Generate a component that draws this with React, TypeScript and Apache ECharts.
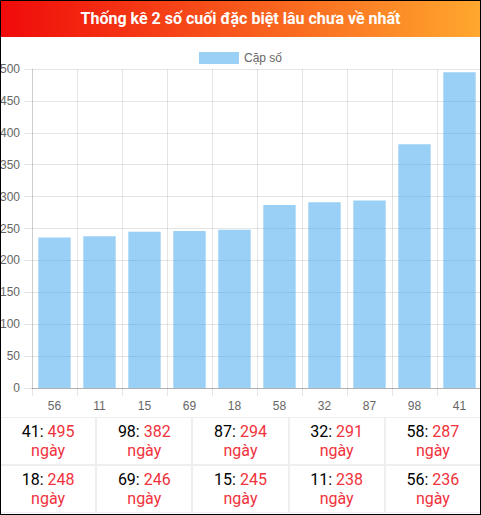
import React, { useEffect, useRef } from "react";
import * as echarts from "echarts";

const TITLE = "Thống kê 2 số cuối đặc biệt lâu chưa về nhất";
const SERIES_NAME = "Cặp số";
const categories = ["56", "11", "15", "69", "18", "58", "32", "87", "98", "41"];
const values = [236, 238, 245, 246, 248, 287, 291, 294, 382, 495];
const yTicks = { min: 0, max: 500, interval: 50 };
const tableRow1 = ["41", "98", "87", "32", "58"];
const tableRow1Days = [495, 382, 294, 291, 287];
const tableRow2 = ["18", "69", "15", "11", "56"];
const tableRow2Days = [248, 246, 245, 238, 236];
const DAY_WORD = "ngày";

const GRID_COLOR = "rgba(0,0,0,0.1)";
const AXIS_COLOR = "rgba(0,0,0,0.22)";
const CHART_FONT = "'Liberation Sans', Arial, Helvetica, sans-serif";

function Cell({ num, days }: { num: string; days: number }) {
  return (
    <div
      style={{
        border: "1px solid #eeeeee",
        boxSizing: "border-box",
        display: "flex",
        flexDirection: "column",
        justifyContent: "center",
        alignItems: "center",
        fontSize: 16,
        lineHeight: "19px",
        fontFamily: "Roboto, sans-serif",
      }}
    >
      <div>
        <span style={{ color: "#000" }}>{num}: </span>
        <span style={{ color: "#f0323c" }}>{days}</span>
      </div>
      <div style={{ color: "#f0323c" }}>{DAY_WORD}</div>
    </div>
  );
}

export default function App() {
  const ref = useRef<HTMLDivElement>(null);

  useEffect(() => {
    if (!ref.current) return;
    const chart = echarts.init(ref.current, null, { renderer: "svg" });
    chart.setOption({
      animation: false,
      textStyle: { fontFamily: CHART_FONT },
      legend: {
        top: 10,
        left: "center",
        itemWidth: 40,
        itemHeight: 12,
        itemGap: 10,
        icon: "rect",
        textStyle: { color: "#666", fontSize: 12, fontFamily: CHART_FONT },
        data: [SERIES_NAME],
      },
      grid: {
        left: 32,
        top: 32,
        width: 450,
        bottom: 29,
        containLabel: false,
        outerBoundsMode: "none",
      },
      xAxis: {
        type: "category",
        data: categories,
        boundaryGap: true,
        axisLine: { show: true, lineStyle: { color: AXIS_COLOR } },
        axisTick: { show: true, length: 8, lineStyle: { color: GRID_COLOR } },
        splitLine: { show: true, lineStyle: { color: GRID_COLOR } },
        axisLabel: { color: "#666", fontSize: 12, margin: 12, fontFamily: CHART_FONT },
      },
      yAxis: {
        type: "value",
        min: yTicks.min,
        max: yTicks.max,
        interval: yTicks.interval,
        axisLine: { show: true, lineStyle: { color: GRID_COLOR } },
        axisTick: { show: true, length: 8, lineStyle: { color: GRID_COLOR } },
        splitLine: { show: true, lineStyle: { color: GRID_COLOR } },
        axisLabel: { color: "#666", fontSize: 12, margin: 12, fontFamily: CHART_FONT },
      },
      series: [
        {
          name: SERIES_NAME,
          type: "bar",
          data: values,
          barWidth: "72%",
          itemStyle: { color: "rgba(54,162,235,0.5)" },
        },
      ],
    });
    return () => chart.dispose();
  }, []);

  return (
    <div
      style={{
        position: "absolute",
        left: 0,
        top: 0,
        width: 481,
        height: 515,
        background: "#fff",
        overflow: "hidden",
      }}
    >
      <div
        style={{
          position: "absolute",
          left: 0,
          top: 0,
          width: 481,
          height: 37,
          background: "linear-gradient(to right, #f00a0a, #ffa82e)",
          color: "#fff",
          fontFamily: "Roboto, sans-serif",
          fontWeight: 700,
          fontSize: 16,
          lineHeight: "37px",
          textAlign: "center",
        }}
      >
        {TITLE}
      </div>
      <div
        ref={ref}
        style={{ position: "absolute", left: 0, top: 37, width: 481, height: 380 }}
      />
      <div
        style={{
          position: "absolute",
          left: 0,
          top: 417,
          width: 481,
          height: 98,
          display: "grid",
          gridTemplateColumns: "repeat(5, 1fr)",
          gridTemplateRows: "48px 48px",
        }}
      >
        {tableRow1.map((n, i) => (
          <Cell key={"a" + i} num={n} days={tableRow1Days[i]} />
        ))}
        {tableRow2.map((n, i) => (
          <Cell key={"b" + i} num={n} days={tableRow2Days[i]} />
        ))}
      </div>
      <div
        style={{
          position: "absolute",
          left: 0,
          top: 0,
          width: 481,
          height: 515,
          border: "1px solid #000",
          boxSizing: "border-box",
          pointerEvents: "none",
        }}
      />
    </div>
  );
}
